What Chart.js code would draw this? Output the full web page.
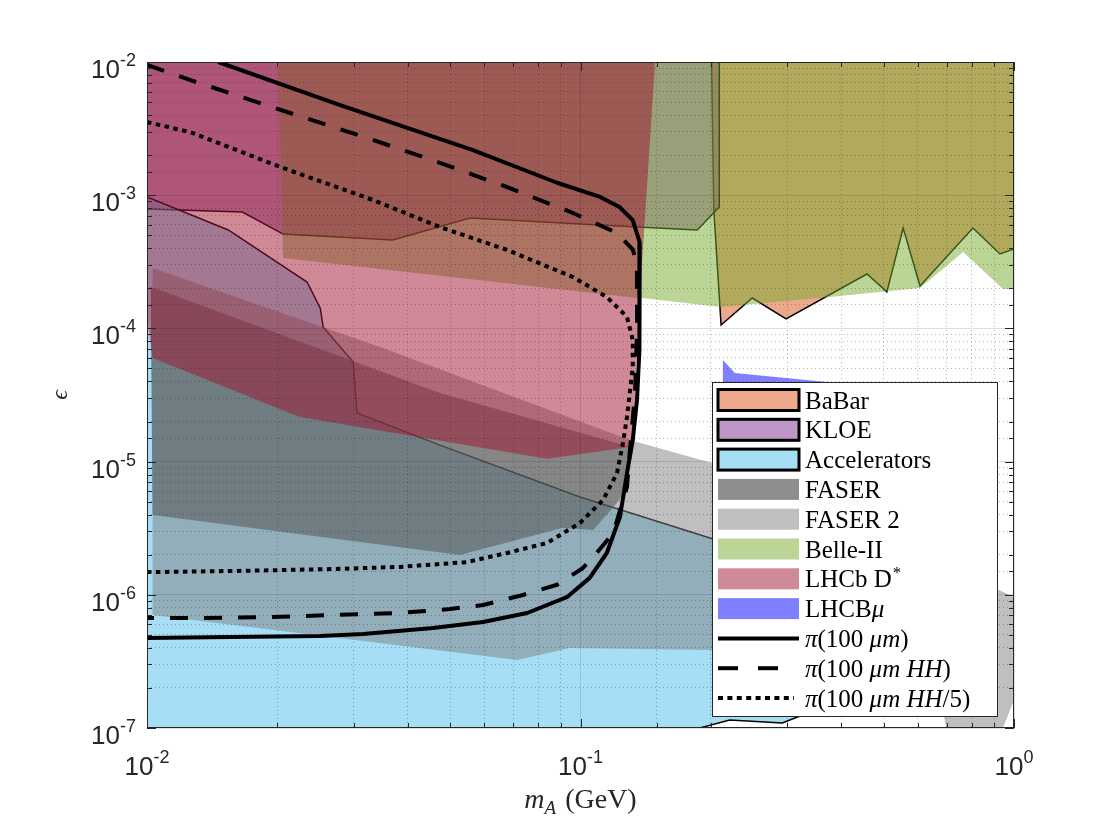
<!DOCTYPE html>
<html>
<head>
<meta charset="utf-8">
<script src="https://cdn.jsdelivr.net/npm/chart.js@4.4.1/dist/chart.umd.min.js"></script>
<style>
  html, body { margin: 0; padding: 0; background: #fff; }
  #wrap { width: 1120px; height: 840px; position: relative; }
</style>
</head>
<body>
<div id="wrap"><canvas id="plot"></canvas></div>
<script>
// axis ranges: dark photon mass m_A (GeV) and kinetic mixing epsilon
const xRange = [0.01, 1];
const yRange = [1e-7, 1e-2];
const xTickExps = [-2, -1, 0];
const yTickExps = [-7, -6, -5, -4, -3, -2];

// excluded / reach regions, outlines as [m_A, epsilon]
const babar = [[0.2, 0.02], [0.203, 7.74e-4], [0.211, 1.06e-4], [0.249, 1.69e-4], [0.298, 1.18e-4],
  [0.458, 2.56e-4], [0.509, 1.88e-4], [0.555, 5.67e-4], [0.607, 2.08e-4], [0.804, 5.67e-4],
  [0.928, 3.62e-4], [1.0, 3.94e-4], [1.1, 4.0e-4], [1.1, 0.02], [0.2, 0.02]];

const kloe = [[0.0095, 0.02], [0.0095, 7.88e-4], [0.01, 7.88e-4], [0.0166, 7.48e-4], [0.0206, 5.11e-4],
  [0.0369, 4.61e-4], [0.0556, 6.74e-4], [0.135, 5.77e-4], [0.186, 5.48e-4], [0.209, 8.15e-4],
  [0.209, 0.02], [0.0095, 0.02]];

const accelerators = [[0.0095, 9.69e-4], [0.01, 9.69e-4], [0.0154, 5.48e-4], [0.0234, 2.23e-4],
  [0.0251, 1.42e-4], [0.0255, 1.02e-4], [0.0299, 5.59e-5], [0.0305, 2.32e-5], [0.0474, 1.33e-5],
  [0.0997, 5.42e-6], [0.199, 2.67e-6], [0.26, 2.1e-6], [0.44, 1.19e-6], [0.546, 4.58e-7],
  [0.441, 1.93e-7], [0.321, 1.23e-7], [0.292, 1.09e-7], [0.221, 1.15e-7], [0.184, 9.8e-8],
  [0.18, 5e-8], [0.0095, 5e-8], [0.0095, 9.69e-4]];

const faser = [[0.0102, 2.05e-4], [0.0474, 3.27e-5], [0.130, 1.29e-5], [0.128, 7.28e-6], [0.123, 5.15e-6],
  [0.107, 3.07e-6], [0.0906, 3.17e-6], [0.0527, 1.99e-6], [0.0103, 3.97e-6]];

const faser2 = [[0.0103, 2.84e-4], [0.0345, 7.25e-5], [0.130, 1.45e-5], [0.201, 9.76e-6], [0.4185, 3.64e-6],
  [1.0, 9.63e-7], [1.1, 9.5e-7], [1.1, 3.5e-7], [1.0, 1.62e-7], [0.943, 1e-7], [0.93, 8e-8],
  [0.712, 7.4e-8], [0.686, 1.32e-7], [0.465, 2.1e-7], [0.201, 3.85e-7], [0.0946, 3.99e-7],
  [0.0714, 3.24e-7], [0.0103, 7.05e-7]];

const belle2 = [[0.0199, 0.02], [0.0206, 3.38e-4], [0.135, 1.69e-4], [0.139, 1.69e-4], [0.21, 1.45e-4],
  [0.376, 1.72e-4], [0.607, 2.01e-4], [0.763, 3.75e-4], [0.943, 1.98e-4], [1.0, 1.98e-4],
  [1.1, 1.98e-4], [1.1, 0.02]];

const lhcbDstar = [[0.0095, 0.02], [0.149, 0.02], [0.1486, 1e-2], [0.137, 1.69e-4], [0.132, 1.33e-5],
  [0.1267, 1.27e-5], [0.0837, 1.05e-5], [0.0225, 2.16e-5], [0.0103, 6.0e-5], [0.01, 1.2e-4],
  [0.0095, 1.2e-4]];

const lhcbMu = [[0.213, 5.79e-5], [0.227, 4.63e-5], [0.370, 3.96e-5], [0.546, 3.16e-5],
  [0.546, 2.05e-5], [0.213, 2.05e-5]];

// pi reach contours
const pi100 = [[0.0146, 1e-2], [0.0279, 4.75e-3], [0.0565, 2.18e-3], [0.0883, 1.24e-3], [0.111, 9.7e-4],
  [0.123, 8.15e-4], [0.132, 6.5e-4], [0.137, 4.4e-4], [0.137, 2.2e-4], [0.1365, 6.9e-5], [0.135, 2.9e-5],
  [0.132, 1.45e-5], [0.1287, 9.1e-6], [0.1233, 3.84e-6], [0.115, 2.06e-6], [0.105, 1.34e-6],
  [0.093, 9.6e-7], [0.0753, 7.3e-7], [0.0596, 6.25e-7], [0.0457, 5.63e-7], [0.0315, 5.08e-7],
  [0.0251, 4.91e-7], [0.0156, 4.82e-7], [0.01, 4.74e-7]];

const pi100HH = [[0.01, 9.5e-3], [0.01256, 7.33e-3], [0.0214, 4.14e-3], [0.0332, 2.6e-3], [0.0474, 1.75e-3],
  [0.0677, 1.15e-3], [0.0961, 7.35e-4], [0.1214, 5.2e-4], [0.1322, 3.88e-4], [0.135, 2.89e-4],
  [0.135, 9.7e-5], [0.1336, 3.27e-5], [0.130, 1.22e-5], [0.128, 6.45e-6], [0.119, 2.91e-6],
  [0.107, 1.92e-6], [0.1013, 1.59e-6], [0.0883, 1.19e-6], [0.0737, 9.97e-7], [0.0596, 8.38e-7],
  [0.05, 7.82e-7], [0.0383, 7.3e-7], [0.0269, 7.05e-7], [0.0195, 6.81e-7], [0.01325, 6.7e-7],
  [0.01, 6.7e-7]];

const pi100HH5 = [[0.01, 3.54e-3], [0.01256, 2.98e-3], [0.0203, 1.63e-3], [0.0332, 9.2e-4], [0.0474, 5.77e-4],
  [0.0677, 3.88e-4], [0.0961, 2.43e-4], [0.115, 1.72e-4], [0.128, 1.22e-4], [0.132, 8.2e-5],
  [0.132, 5.13e-5], [0.128, 2.16e-5], [0.1253, 1.38e-5], [0.1214, 8.2e-6], [0.1127, 5.15e-6],
  [0.0997, 3.46e-6], [0.0837, 2.45e-6], [0.0677, 2.06e-6], [0.0547, 1.76e-6], [0.0383, 1.62e-6],
  [0.0269, 1.56e-6], [0.0158, 1.51e-6], [0.01, 1.48e-6]];

// legend text runs: n = upright, i = italic, sup = superscript
const legendLabels = [
  [['BaBar', 'n']],
  [['KLOE', 'n']],
  [['Accelerators', 'n']],
  [['FASER', 'n']],
  [['FASER 2', 'n']],
  [['Belle-II', 'n']],
  [['LHCb D', 'n'], ['*', 'sup']],
  [['LHCB', 'n'], ['μ', 'i']],
  [['π', 'i'], ['(100 ', 'n'], ['μm', 'i'], [')', 'n']],
  [['π', 'i'], ['(100 ', 'n'], ['μm HH', 'i'], [')', 'n']],
  [['π', 'i'], ['(100 ', 'n'], ['μm HH', 'i'], ['/5)', 'n']]
];

const SANS = '"Liberation Sans", Arial, Helvetica, sans-serif';
const SERIF = '"Liberation Serif", "Times New Roman", "DejaVu Serif", serif';
const INK = '#262626';

function toXY(pts) {
  return pts.map(p => ({ x: p[0], y: p[1] }));
}

function region(label, pts, color, edged) {
  return {
    label: label,
    data: toXY(pts),
    fill: 'shape',
    backgroundColor: color,
    borderColor: edged ? '#000' : 'rgba(0,0,0,0)',
    borderWidth: edged ? 1.5 : 0,
    edged: edged,
    pointRadius: 0,
    tension: 0
  };
}

function contour(label, pts, dash) {
  return {
    label: label,
    data: toXY(pts),
    fill: false,
    backgroundColor: 'rgba(0,0,0,0)',
    borderColor: '#000',
    borderWidth: 4,
    borderDash: dash,
    borderJoinStyle: 'round',
    isLine: true,
    pointRadius: 0,
    tension: 0
  };
}

function isDecade(v) {
  const l = Math.log10(v);
  return Math.abs(l - Math.round(l)) < 1e-6;
}

// listed bottom layer first
const datasets = [
  region('BaBar', babar, 'rgba(217,83,25,0.5)', true),
  region('KLOE', kloe, 'rgba(126,47,142,0.5)', true),
  region('Accelerators', accelerators, 'rgba(77,190,238,0.5)', true),
  region('FASER', faser, 'rgba(29,29,29,0.5)', false),
  region('FASER 2', faser2, 'rgba(128,128,128,0.5)', false),
  region('Belle-II', belle2, 'rgba(119,172,48,0.5)', false),
  region('LHCb D*', lhcbDstar, 'rgba(162,20,47,0.5)', false),
  region('LHCBmu', lhcbMu, 'rgba(0,0,255,0.5)', false),
  contour('pi(100 um)', pi100, []),
  contour('pi(100 um HH)', pi100HH, [18, 16]),
  contour('pi(100 um HH/5)', pi100HH5, [4.5, 4.5])
];
datasets.forEach((d, i) => { d.order = datasets.length - i; });

function drawPower(ctx, exp, x, y, align) {
  const es = String(exp);
  ctx.font = '26px ' + SANS;
  const wb = ctx.measureText('10').width;
  ctx.font = '18px ' + SANS;
  const we = ctx.measureText(es).width;
  const x0 = align === 'right' ? x - wb - we : x - (wb + we) / 2;
  ctx.textAlign = 'left';
  ctx.textBaseline = 'alphabetic';
  ctx.font = '26px ' + SANS;
  ctx.fillText('10', x0, y);
  ctx.font = '18px ' + SANS;
  ctx.fillText(es, x0 + wb, y - 12);
}

function drawRuns(ctx, runs, x, y, size) {
  let cx = x;
  runs.forEach(r => {
    const txt = r[0], style = r[1];
    if (style === 'sup') {
      ctx.font = Math.round(size * 0.68) + 'px ' + SERIF;
      ctx.fillText(txt, cx + 1, y - size * 0.38);
      cx += ctx.measureText(txt).width + 1;
    } else {
      ctx.font = (style === 'i' ? 'italic ' : '') + size + 'px ' + SERIF;
      ctx.fillText(txt, cx, y);
      cx += ctx.measureText(txt).width;
    }
  });
}

const decorations = {
  id: 'decorations',
  afterDraw(chart) {
    const ctx = chart.ctx;
    const a = chart.chartArea;
    const xs = chart.scales.x, ys = chart.scales.y;
    ctx.save();

    // inward tick marks on all four sides
    ctx.strokeStyle = INK;
    ctx.lineWidth = 1;
    ctx.setLineDash([]);
    ctx.beginPath();
    xs.ticks.forEach(t => {
      const px = Math.round(xs.getPixelForValue(t.value)) + 0.5;
      const len = isDecade(t.value) ? 9 : 5;
      ctx.moveTo(px, a.bottom); ctx.lineTo(px, a.bottom - len);
      ctx.moveTo(px, a.top); ctx.lineTo(px, a.top + len);
    });
    ys.ticks.forEach(t => {
      const py = Math.round(ys.getPixelForValue(t.value)) + 0.5;
      const len = isDecade(t.value) ? 9 : 5;
      ctx.moveTo(a.left, py); ctx.lineTo(a.left + len, py);
      ctx.moveTo(a.right, py); ctx.lineTo(a.right - len, py);
    });
    ctx.stroke();
    ctx.strokeRect(a.left + 0.5, a.top + 0.5, a.width - 1, a.height - 1);

    // tick labels
    ctx.fillStyle = INK;
    xTickExps.forEach(e => drawPower(ctx, e, xs.getPixelForValue(Math.pow(10, e)), a.bottom + 47, 'center'));
    yTickExps.forEach(e => drawPower(ctx, e, a.left - 11, ys.getPixelForValue(Math.pow(10, e)) + 16, 'right'));

    // x title: m_A (GeV)
    ctx.fillStyle = INK;
    ctx.textBaseline = 'alphabetic';
    ctx.textAlign = 'left';
    ctx.font = 'italic 28px ' + SERIF;
    const wm = ctx.measureText('m').width;
    ctx.font = 'italic 19px ' + SERIF;
    const wa = ctx.measureText('A').width;
    ctx.font = '28px ' + SERIF;
    const wg = ctx.measureText(' (GeV)').width;
    let tx = (a.left + a.right) / 2 - (wm + wa + 2 + wg) / 2;
    const ty = a.bottom + 80;
    ctx.font = 'italic 28px ' + SERIF;
    ctx.fillText('m', tx, ty);
    ctx.font = 'italic 19px ' + SERIF;
    ctx.fillText('A', tx + wm, ty + 6);
    ctx.font = '28px ' + SERIF;
    ctx.fillText(' (GeV)', tx + wm + wa + 2, ty);

    // y title: epsilon
    ctx.save();
    ctx.translate(a.left - 86, (a.top + a.bottom) / 2);
    ctx.rotate(-Math.PI / 2);
    ctx.textAlign = 'center';
    ctx.textBaseline = 'middle';
    ctx.font = 'italic 24px ' + SERIF;
    ctx.fillText('ϵ', 0, 0);
    ctx.restore();

    // legend box, lower right inside the axes
    const lx = a.right - 302, ly = a.top + 320, lw = 285, lh = 334;
    ctx.fillStyle = '#fff';
    ctx.fillRect(lx, ly, lw, lh);
    ctx.strokeStyle = INK;
    ctx.lineWidth = 1;
    ctx.strokeRect(lx + 0.5, ly + 0.5, lw, lh);
    chart.data.datasets.forEach((d, i) => {
      const cy = ly + 18 + i * 29.8;
      const sx = lx + 6, sw = 81;
      if (d.isLine) {
        ctx.strokeStyle = '#000';
        ctx.lineWidth = 4;
        ctx.setLineDash(i === 9 ? [20, 20] : (i === 10 ? [5, 4.4] : []));
        ctx.beginPath();
        ctx.moveTo(sx, cy);
        ctx.lineTo(sx + (i === 9 ? 62 : (i === 10 ? 76 : sw)), cy);
        ctx.stroke();
        ctx.setLineDash([]);
      } else {
        ctx.fillStyle = d.backgroundColor;
        ctx.fillRect(sx, cy - 10.5, sw, 21);
        if (d.edged) {
          ctx.strokeStyle = '#000';
          ctx.lineWidth = 3;
          ctx.strokeRect(sx, cy - 10.5, sw, 21);
        }
      }
      ctx.fillStyle = '#000';
      ctx.textAlign = 'left';
      ctx.textBaseline = 'alphabetic';
      drawRuns(ctx, legendLabels[i], lx + 93, cy + 8.5, 25);
    });

    ctx.restore();
  }
};

function gridColor(c) {
  if (!c.tick) return 'rgba(0,0,0,0)';
  return isDecade(c.tick.value) ? 'rgba(0,0,0,0.12)' : 'rgba(0,0,0,0.28)';
}
function gridDash(c) {
  return (c.tick && !isDecade(c.tick.value)) ? [1, 3] : [];
}

new Chart(document.getElementById('plot'), {
  type: 'line',
  data: { datasets: datasets },
  options: {
    responsive: true,
    maintainAspectRatio: false,
    animation: false,
    events: [],
    layout: { padding: { left: 147, right: 106, top: 62, bottom: 112 } },
    plugins: {
      legend: { display: false },
      tooltip: { enabled: false }
    },
    scales: {
      x: {
        type: 'logarithmic',
        min: xRange[0],
        max: xRange[1],
        ticks: { display: false },
        grid: { drawTicks: false, color: gridColor, lineWidth: 1, z: 1 },
        border: { display: false, dash: gridDash },
        afterFit: s => { s.height = 0; }
      },
      y: {
        type: 'logarithmic',
        min: yRange[0],
        max: yRange[1],
        ticks: { display: false },
        grid: { drawTicks: false, color: gridColor, lineWidth: 1, z: 1 },
        border: { display: false, dash: gridDash },
        afterFit: s => { s.width = 0; }
      }
    }
  },
  plugins: [decorations]
});
</script>
</body>
</html>
